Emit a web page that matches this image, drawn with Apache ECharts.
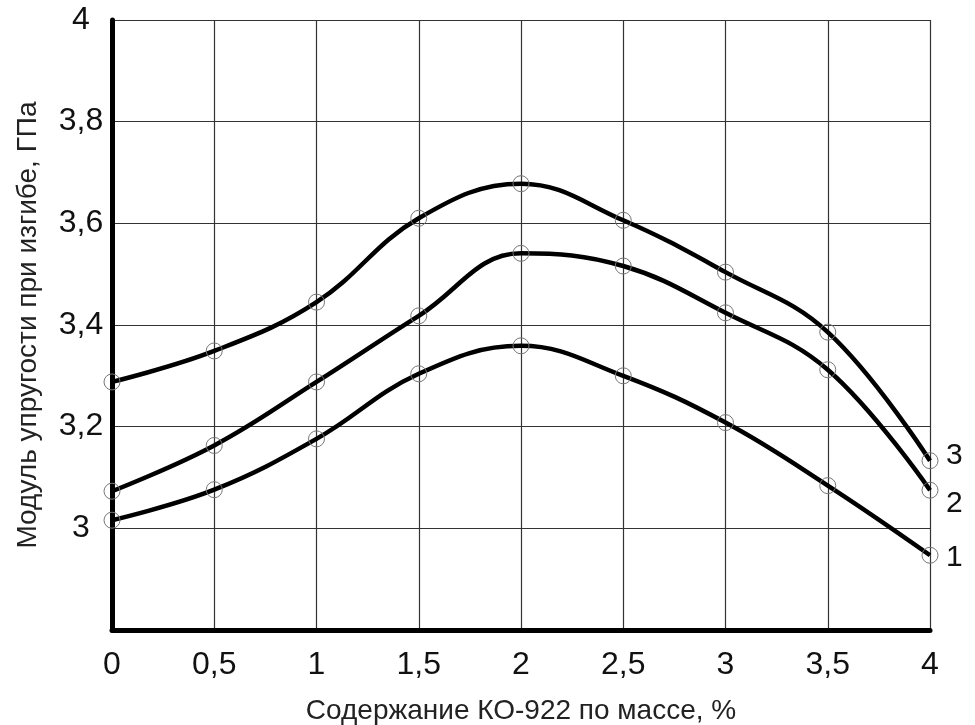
<!DOCTYPE html>
<html><head><meta charset="utf-8">
<script src="https://cdn.jsdelivr.net/npm/echarts@6/dist/echarts.min.js"></script>
<style>html,body{margin:0;padding:0;background:#fff}#c{width:975px;height:725px}</style>
</head><body><div id="c"></div>
<script>
const xValues = [0, 0.5, 1, 1.5, 2, 2.5, 3, 3.5, 4];
const curve1 = [3.016, 3.076, 3.176, 3.304, 3.359, 3.300, 3.208, 3.084, 2.947];
const curve2 = [3.073, 3.163, 3.288, 3.418, 3.541, 3.516, 3.424, 3.312, 3.075];
const curve3 = [3.288, 3.349, 3.445, 3.610, 3.678, 3.606, 3.504, 3.386, 3.133];
const curveLabels = ['1', '2', '3'];
const xName = 'Содержание КО-922 по массе, %';
const yName = 'Модуль упругости при изгибе, ГПа';

const FONT = 'Liberation Sans, Arial, sans-serif';
function fmt(v){ return String(v).replace('.', ','); }

function mkSeries(vals, label, dy){
  return {
    type: 'line',
    data: xValues.map((x, i) => [x, vals[i]]),
    smooth: 0.4,
    lineStyle: { color: '#000', width: 4.5 },
    symbol: 'circle',
    symbolSize: 16,
    itemStyle: { color: 'rgba(0,0,0,0)', borderColor: '#777', borderWidth: 1 },
    emphasis: { disabled: true },
    endLabel: { show: true, formatter: label, color: '#111', fontSize: 30, fontFamily: FONT, distance: 16, offset: [0, dy] },
    z: 3
  };
}

const chart = echarts.init(document.getElementById('c'));
chart.setOption({
  animation: false,
  backgroundColor: '#fff',
  grid: { left: 112, right: 45, top: 20, bottom: 95, containLabel: false, outerBoundsMode: 'none' },
  xAxis: {
    type: 'value', min: 0, max: 4, interval: 0.5,
    name: xName, nameLocation: 'middle', nameGap: 67,
    nameTextStyle: { fontSize: 28, color: '#222', fontFamily: FONT },
    axisLine: { show: true, onZero: false, lineStyle: { color: '#000', width: 5 } },
    axisTick: { show: false },
    axisLabel: { formatter: fmt, fontSize: 32, color: '#111', fontFamily: FONT, margin: 19 },
    splitLine: { show: true, lineStyle: { color: '#333', width: 1.2 } }
  },
  yAxis: {
    type: 'value', min: 2.8, max: 4, interval: 0.2,
    name: yName, nameLocation: 'middle', nameGap: 70,
    nameTextStyle: { fontSize: 28, color: '#222', fontFamily: FONT },
    axisLine: { show: true, onZero: false, lineStyle: { color: '#000', width: 5 } },
    axisTick: { show: false },
    axisLabel: {
      formatter: v => (Math.abs(v - 2.8) < 1e-6 ? '' : fmt(+v.toFixed(1))),
      fontSize: 32, color: '#111', fontFamily: FONT, margin: 31, align: 'center'
    },
    splitLine: { show: true, lineStyle: { color: '#333', width: 1.2 } }
  },
  series: [mkSeries(curve1, curveLabels[0], 2), mkSeries(curve2, curveLabels[1], 14), mkSeries(curve3, curveLabels[2], -5)]
});
</script>
</body></html>
